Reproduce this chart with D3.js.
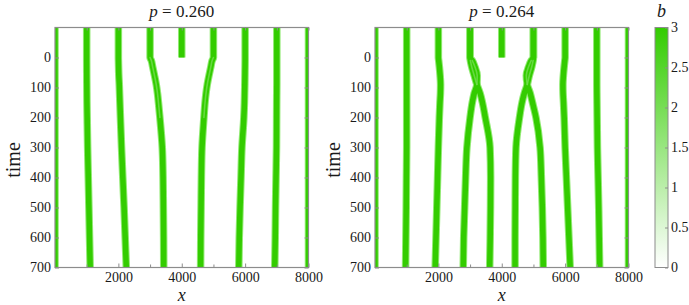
<!DOCTYPE html>
<html>
<head>
<meta charset="utf-8">
<script src="https://cdn.jsdelivr.net/npm/d3@7"></script>
<style>
  body { margin: 0; background: #fff; }
  text { font-family: "Liberation Serif", "Times New Roman", Times, serif; fill: #1a1a1a; }
</style>
</head>
<body>
<script>
// sampled times (rows) for every stripe track
const tGrid = [-100, 0, 10, 30, 60, 90, 120, 150, 200, 300, 400, 500, 600, 700];

// p = 0.260 : stripe x-positions at each tGrid time (null = no stripe)
const stripes260 = [
  [0, 0, 0, 0, 0, 0, 0, 0, 0, 0, 0, 0, 0, 0],
  [1000, 1000, 1000, 1001, 1002, 1004, 1006, 1008, 1015, 1030, 1050, 1070, 1090, 1110],
  [2000, 2000, 2002, 2006, 2014, 2028, 2038, 2048, 2065, 2100, 2140, 2180, 2215, 2250],
  [3000, 3000, 3040, 3080, 3140, 3195, 3235, 3265, 3310, 3385, 3410, 3420, 3428, 3432],
  [4000, 4000, null, null, null, null, null, null, null, null, null, null, null, null],
  [5000, 5000, 4960, 4920, 4860, 4805, 4765, 4735, 4700, 4640, 4620, 4610, 4600, 4595],
  [6000, 6000, 6000, 5998, 5994, 5990, 5984, 5978, 5960, 5900, 5870, 5840, 5815, 5800],
  [7000, 7000, 7000, 7000, 7000, 7000, 6998, 6996, 6994, 6990, 6975, 6960, 6950, 6935],
  [8000, 8000, 8000, 8000, 8000, 8000, 8000, 8000, 8000, 8000, 8000, 8000, 8000, 8000]
];
// time span where a stripe has a weaker (lighter) centre, per stripe
const soft260 = [null, null, null, [0, 200], null, [0, 200], null, null, null];

// p = 0.264 : stripes at 3000 and 5000 split into crossing pairs
const stripes264 = [
  [0, 0, 0, 0, 0, 0, 0, 0, 0, 0, 0, 0, 0, 0],
  [1000, 1000, 1000, 1000, 1000, 1000, 1000, 1000, 1000, 1000, 992, 985, 975, 965],
  [2000, 2000, 2010, 2030, 2055, 2070, 2065, 2050, 2030, 2000, 1975, 1950, 1925, 1900],
  [3000, 3000, 3010, 3050, 3130, 3215, 3320, 3390, 3480, 3630, 3650, 3645, 3635, 3620],
  [3000, 3000, 3070, 3150, 3225, 3215, 3130, 3070, 3000, 2900, 2860, 2830, 2800, 2785],
  [4000, 4000, null, null, null, null, null, null, null, null, null, null, null, null],
  [5000, 5000, 4990, 4950, 4870, 4805, 4710, 4640, 4560, 4450, 4430, 4425, 4420, 4420],
  [5000, 5000, 4930, 4850, 4775, 4805, 4900, 4970, 5080, 5210, 5250, 5280, 5300, 5310],
  [6000, 6000, 5990, 5970, 5945, 5930, 5935, 5950, 5970, 6000, 6040, 6080, 6120, 6160],
  [7000, 7000, 7000, 7000, 7000, 7000, 7002, 7005, 7010, 7020, 7040, 7060, 7075, 7090],
  [8000, 8000, 8000, 8000, 8000, 8000, 8000, 8000, 8000, 8000, 8000, 8000, 8000, 8000]
];
const soft264 = [null, null, null, [10, 90], [10, 90], null, [10, 90], [10, 90], null, null, null];

const pValues = ["0.260", "0.264"];
const xMajor = [2000, 4000, 6000, 8000];
const xMinor = [1000, 3000, 5000, 7000];
const tTicks = [0, 100, 200, 300, 400, 500, 600, 700];
const barTicks = [0, 0.5, 1, 1.5, 2, 2.5, 3];

const svgWidth = 689, svgHeight = 305;
const plotW = 253.5;
const plotTop = 27.5, plotBottom = 267.5;
const panelLeft = [55, 375];

const coreColor = "#33cc00";
const fringeColor = "#93ea75";
const softColor = "#6fdc4a";
const frameColor = "#8c8c8c";

const svg = d3.select("body").append("svg")
  .attr("width", svgWidth)
  .attr("height", svgHeight);

const color = d3.scaleLinear().domain([0, 3]).range(["#ffffff", coreColor]);

const drawPanel = (i, stripes, soft) => {
  const ox = panelLeft[i];
  const x = d3.scaleLinear().domain([0, 8000]).range([ox, ox + plotW]);
  const y = d3.scaleLinear().domain([-100, 700]).range([plotTop, plotBottom]);

  svg.append("clipPath").attr("id", `clip${i}`)
    .append("rect")
    .attr("x", ox).attr("y", plotTop)
    .attr("width", plotW).attr("height", plotBottom - plotTop);

  const g = svg.append("g").attr("clip-path", `url(#clip${i})`);

  const line = d3.line()
    .x(d => x(d[0]))
    .y(d => y(d[1]))
    .curve(d3.curveMonotoneY);

  const tracks = stripes.map(s => s.map((v, k) => [v, tGrid[k]]).filter(d => d[0] !== null));
  const coreW = x(175) - x(0);

  g.selectAll("path.fringe")
    .data(tracks)
    .enter()
    .append("path")
    .attr("class", "fringe")
    .attr("d", line)
    .attr("fill", "none")
    .attr("stroke", fringeColor)
    .attr("stroke-width", coreW + 2);

  g.selectAll("path.core")
    .data(tracks)
    .enter()
    .append("path")
    .attr("class", "core")
    .attr("d", line)
    .attr("fill", "none")
    .attr("stroke", coreColor)
    .attr("stroke-width", coreW);

  // lighter centre where a stripe is splitting / moving fast
  const softTracks = tracks
    .map((tr, k) => soft[k] ? tr.filter(d => d[1] >= soft[k][0] && d[1] <= soft[k][1]) : null)
    .filter(tr => tr);
  g.selectAll("path.soft")
    .data(softTracks)
    .enter()
    .append("path")
    .attr("class", "soft")
    .attr("d", line)
    .attr("fill", "none")
    .attr("stroke", softColor)
    .attr("stroke-width", 1.6)
    .attr("stroke-linecap", "round")
    .attr("opacity", 0.85);

  // inward frame ticks
  const axes = svg.append("g").attr("class", "axes");
  axes.append("g")
    .attr("transform", `translate(0,${plotBottom})`)
    .call(d3.axisBottom(x).tickValues(xMajor).tickSize(-4).tickPadding(5).tickFormat(d3.format("d")));
  axes.append("g")
    .attr("transform", `translate(0,${plotBottom})`)
    .call(d3.axisBottom(x).tickValues(xMinor).tickSize(-3).tickFormat(""));
  axes.append("g")
    .attr("transform", `translate(0,${plotTop})`)
    .call(d3.axisTop(x).tickValues(xMajor.concat(xMinor)).tickSize(-3).tickFormat(""));
  axes.append("g")
    .attr("transform", `translate(${ox},0)`)
    .call(d3.axisLeft(y).tickValues(tTicks).tickSize(-4).tickPadding(4).tickFormat(d3.format("d")));
  axes.append("g")
    .attr("transform", `translate(${ox + plotW},0)`)
    .call(d3.axisRight(y).tickValues(tTicks).tickSize(-4).tickFormat(""));

  axes.selectAll(".domain").remove();
  axes.selectAll(".tick line").attr("stroke", frameColor);
  axes.selectAll(".tick text")
    .attr("font-size", 14)
    .attr("fill", "#1a1a1a");

  svg.append("rect")
    .attr("x", ox).attr("y", plotTop)
    .attr("width", plotW).attr("height", plotBottom - plotTop)
    .attr("fill", "none")
    .attr("stroke", frameColor)
    .attr("stroke-width", 1.2);

  const cx = ox + plotW / 2;
  const title = svg.append("text")
    .attr("x", cx).attr("y", 17)
    .attr("text-anchor", "middle")
    .attr("font-size", 17);
  title.append("tspan").attr("font-style", "italic").text("p");
  title.append("tspan").text(` = ${pValues[i]}`);

  svg.append("text")
    .attr("x", cx).attr("y", 301)
    .attr("text-anchor", "middle")
    .attr("font-size", 18)
    .attr("font-style", "italic")
    .text("x");

  svg.append("text")
    .attr("transform", `translate(${ox - 35},160) rotate(-90)`)
    .attr("text-anchor", "middle")
    .attr("font-size", 20)
    .text("time");
};

drawPanel(0, stripes260, soft260);
drawPanel(1, stripes264, soft264);

// colour bar
const barX = 655, barW = 13;
const bScale = d3.scaleLinear().domain([0, 3]).range([plotBottom, plotTop]);

const grad = svg.append("defs").append("linearGradient")
  .attr("id", "bgrad")
  .attr("x1", 0).attr("y1", 1).attr("x2", 0).attr("y2", 0);
grad.selectAll("stop")
  .data(barTicks)
  .enter()
  .append("stop")
  .attr("offset", d => d / 3)
  .attr("stop-color", d => color(d));

svg.append("rect")
  .attr("x", barX).attr("y", plotTop)
  .attr("width", barW).attr("height", plotBottom - plotTop)
  .attr("fill", "url(#bgrad)")
  .attr("stroke", frameColor)
  .attr("stroke-width", 1);

const barAxis = svg.append("g")
  .attr("transform", `translate(${barX + barW},0)`)
  .call(d3.axisRight(bScale).tickValues(barTicks).tickSize(-3).tickPadding(3).tickFormat(d => d));
barAxis.select(".domain").remove();
barAxis.selectAll(".tick line").attr("stroke", frameColor);
barAxis.selectAll(".tick text")
  .attr("font-size", 14)
  .attr("fill", "#1a1a1a");

svg.append("text")
  .attr("x", barX + barW / 2).attr("y", 17)
  .attr("text-anchor", "middle")
  .attr("font-size", 18)
  .attr("font-style", "italic")
  .text("b");
</script>
</body>
</html>
